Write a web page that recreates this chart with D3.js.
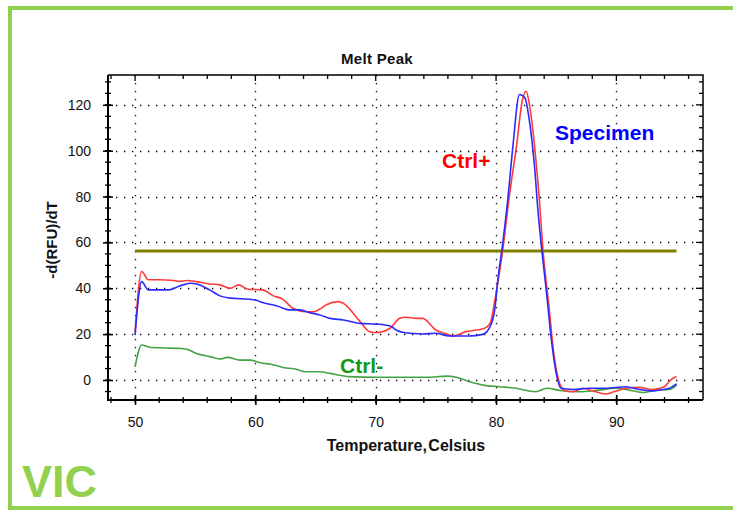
<!DOCTYPE html>
<html>
<head>
<meta charset="utf-8">
<script src="https://cdn.jsdelivr.net/npm/d3@7"></script>
<style>
  body { margin: 0; background: #fff; }
  text { font-family: Arial, "Liberation Sans", sans-serif; }
</style>
</head>
<body>
<svg id="chart" width="733" height="510"></svg>
<script>
// melt peak curves, [temperature, -d(RFU)/dT]
var ctrlPos = [[50,21],[50.55,47.3],[51.1,43.7],[52,43.7],[53,43.5],[53.7,43],[54.3,43.4],[55.1,42.9],[56.2,41.9],[57.05,41.5],[57.9,40],[58.6,41.5],[59.4,39.6],[60.6,39.3],[61.5,36.7],[62.3,35.2],[63.1,31.3],[64.2,29.8],[64.9,29.8],[65.35,30.9],[65.9,32.8],[66.9,34.2],[67.3,33.5],[68.7,25.5],[69.5,21.1],[70.05,20.7],[71.2,22.6],[72,26.9],[72.5,27.4],[73.4,26.9],[73.9,26.9],[75,21.8],[75.9,20.1],[76.4,19.2],[77.5,21.1],[78.4,21.8],[79.05,22.6],[79.5,24.7],[80,37.9],[80.56,56.8],[81.1,80],[81.7,102],[82.2,122.3],[82.5,125.9],[82.8,119.3],[83.2,102],[83.6,78.6],[83.9,56.8],[84.4,32],[84.8,11.6],[85.2,0],[85.65,-4.4],[86.4,-5.1],[87.2,-3.6],[88,-4.7],[89.1,-6.1],[89.8,-5.1],[90.8,-3.6],[91.9,-3.2],[93,-4.1],[94,-2.9],[94.5,0],[95,1.5]];

var specimen = [[50,19.6],[50.55,42.9],[51.1,39.3],[52,39.3],[52.8,39.3],[53.7,41],[54.6,42.2],[55.1,41.9],[56.2,39.3],[57.05,36.7],[57.9,35.7],[59.5,35.2],[60,34.9],[60.6,33.8],[61.8,32.3],[62.9,30.6],[63.7,30.6],[64.5,29.4],[65.35,28.4],[66.2,26.9],[67.3,26.2],[68.7,24.7],[70.05,24.4],[71.2,23.6],[71.7,21.8],[72.3,20.7],[73.9,20.1],[75,20.4],[76.1,19.2],[77.75,19.2],[78.9,19.9],[79.5,23.3],[79.9,31],[80.15,43.7],[80.56,59.7],[81,80],[81.4,101.9],[81.95,124.5],[82.4,123],[82.8,112],[83.2,93],[83.5,72.8],[83.8,56.8],[84.2,37.9],[84.6,17.5],[85,2.9],[85.4,-3.6],[86.4,-4.1],[87.75,-3.6],[89.1,-3.6],[90.8,-2.9],[91.9,-4.1],[93,-4.7],[93.85,-4.1],[94.4,-3.6],[95,-1.7]];

var ctrlNeg = [[50,5.8],[50.55,15.3],[51.2,14.3],[52.5,14],[53.7,13.8],[54.3,13.4],[55.1,11.6],[56.2,10.2],[57.05,9.2],[57.7,9.9],[58.7,8.7],[59.5,8.7],[60.6,7.3],[61.2,7],[62.3,5.5],[63.4,4.7],[64.2,3.6],[65.35,3.6],[66.2,2.9],[67.8,1.5],[70.05,1.2],[72.3,1.2],[74.2,1.2],[75.9,1.7],[76.7,1.2],[77.8,-0.7],[78.9,-2.2],[80.3,-2.9],[81.5,-3.5],[83.3,-5.1],[84.2,-3.6],[85.5,-4.7],[86.9,-5.1],[88.5,-4.4],[90,-3.6],[91.35,-4.7],[92.2,-5.4],[93.3,-4.4],[94.4,-4.1],[95,-2.2]];

var threshold = 56.3;
var thresholdRange = [50, 95];

var xMajor = [50, 60, 70, 80, 90];
var yMajor = [0, 20, 40, 60, 80, 100, 120];
var xMinor = d3.range(48, 97, 2);
var yMinor = d3.range(-5, 131, 5);

var seriesLabels = [
  {text: "Ctrl+", color: "#ff0000", x: 442, y: 168},
  {text: "Specimen", color: "#0000ff", x: 555, y: 140},
  {text: "Ctrl-", color: "#159a15", x: 340, y: 373}
];

var svg = d3.select('#chart');

var plot = {left: 108, right: 703, top: 75, bottom: 400};

var x = d3.scaleLinear().domain([47.75, 97.2]).range([plot.left, plot.right]);
var y = d3.scaleLinear().domain([-8.7, 133]).range([plot.bottom, plot.top]);

// green frame round the picture
svg.append("path")
  .attr("d", "M735,8H10V508H735")
  .attr("fill", "none")
  .attr("stroke", "#92d050")
  .attr("stroke-width", 4);

svg.append("text")
  .attr("x", 22).attr("y", 497)
  .attr("font-size", 45)
  .attr("font-weight", "bold")
  .attr("fill", "#92d050")
  .text("VIC");

// dotted grid
var grid = svg.append("g")
  .attr("stroke", "#000")
  .attr("stroke-width", 1.3)
  .attr("stroke-dasharray", "1.3,6.7");

grid.selectAll(".gx").data(xMajor).enter().append("line")
  .attr("x1", d => Math.round(x(d)) + 0.5).attr("x2", d => Math.round(x(d)) + 0.5)
  .attr("y1", plot.top).attr("y2", plot.bottom);

grid.selectAll(".gy").data(yMajor).enter().append("line")
  .attr("y1", d => Math.round(y(d)) + 0.5).attr("y2", d => Math.round(y(d)) + 0.5)
  .attr("x1", plot.left).attr("x2", plot.right);

// axes
var xAxis = d3.axisBottom(x).tickValues(xMajor).tickSize(5).tickPadding(12);
var yAxis = d3.axisLeft(y).tickValues(yMajor).tickSize(5).tickPadding(12);

var gx = svg.append("g").attr("transform", "translate(0," + plot.bottom + ")").call(xAxis);
var gy = svg.append("g").attr("transform", "translate(" + plot.left + ",0)").call(yAxis);

[gx, gy].forEach(function(g) {
  g.select(".domain").remove();
  g.selectAll(".tick line").attr("stroke", "#000").attr("stroke-width", 1.5);
  g.selectAll(".tick text").attr("font-size", 14).attr("fill", "#111")
    .attr("font-family", "Arial, 'Liberation Sans', sans-serif");
});
gx.selectAll(".tick line").attr("y1", -5);
gy.selectAll(".tick line").attr("x1", 5);

var ticks = svg.append("g").attr("stroke", "#000").attr("stroke-width", 1.3);

ticks.selectAll(".mx").data(xMinor).enter().append("line")
  .attr("x1", d => x(d)).attr("x2", d => x(d))
  .attr("y1", plot.bottom - 3).attr("y2", plot.bottom + 3);
ticks.selectAll(".tx").data(xMinor).enter().append("line")
  .attr("x1", d => x(d)).attr("x2", d => x(d))
  .attr("y1", plot.top).attr("y2", d => plot.top + (d % 10 == 0 ? 6 : 4));
ticks.selectAll(".my").data(yMinor).enter().append("line")
  .attr("y1", d => y(d)).attr("y2", d => y(d))
  .attr("x1", plot.left - 3).attr("x2", plot.left + 3);
ticks.selectAll(".ry").data(yMinor).enter().append("line")
  .attr("y1", d => y(d)).attr("y2", d => y(d))
  .attr("x1", plot.right).attr("x2", d => plot.right - (d % 20 == 0 ? 7 : 4));

// plot frame
svg.append("path")
  .attr("d", "M" + plot.left + "," + plot.top + "H" + plot.right + "V" + plot.bottom)
  .attr("fill", "none").attr("stroke", "#000").attr("stroke-width", 1.5);
svg.append("path")
  .attr("d", "M" + plot.left + "," + plot.top + "V" + plot.bottom + "H" + plot.right)
  .attr("fill", "none").attr("stroke", "#000").attr("stroke-width", 2);

// threshold
svg.append("line")
  .attr("x1", x(thresholdRange[0])).attr("x2", x(thresholdRange[1]))
  .attr("y1", y(threshold)).attr("y2", y(threshold))
  .attr("stroke", "#808000").attr("stroke-width", 3);

var line = d3.line()
  .x(d => x(d[0]))
  .y(d => y(d[1]))
  .curve(d3.curveMonotoneX);

var curves = [
  {data: ctrlNeg, color: "#44a444"},
  {data: ctrlPos, color: "#ff3a3a"},
  {data: specimen, color: "#2a2aff"}
];

svg.selectAll(".curve").data(curves).enter().append("path")
  .attr("class", "curve")
  .attr("d", d => line(d.data))
  .attr("fill", "none")
  .attr("stroke", d => d.color)
  .attr("stroke-width", 1.6);

svg.selectAll(".lbl").data(seriesLabels).enter().append("text")
  .attr("x", d => d.x).attr("y", d => d.y)
  .attr("font-size", 21).attr("font-weight", "bold")
  .attr("fill", d => d.color)
  .text(d => d.text);

// titles
svg.append("text")
  .attr("x", 377).attr("y", 64)
  .attr("text-anchor", "middle")
  .attr("font-size", 15).attr("font-weight", "bold")
  .attr("letter-spacing", 0.3)
  .attr("fill", "#111")
  .text("Melt Peak");

svg.append("text")
  .attr("x", 406).attr("y", 451)
  .attr("text-anchor", "middle")
  .attr("font-size", 16).attr("font-weight", "bold")
  .attr("word-spacing", -3)
  .attr("fill", "#111")
  .text("Temperature, Celsius");

svg.append("text")
  .attr("transform", "translate(57,240) rotate(-90)")
  .attr("text-anchor", "middle")
  .attr("font-size", 15).attr("font-weight", "bold")
  .attr("fill", "#111")
  .text("-d(RFU)/dT");
</script>
</body>
</html>
